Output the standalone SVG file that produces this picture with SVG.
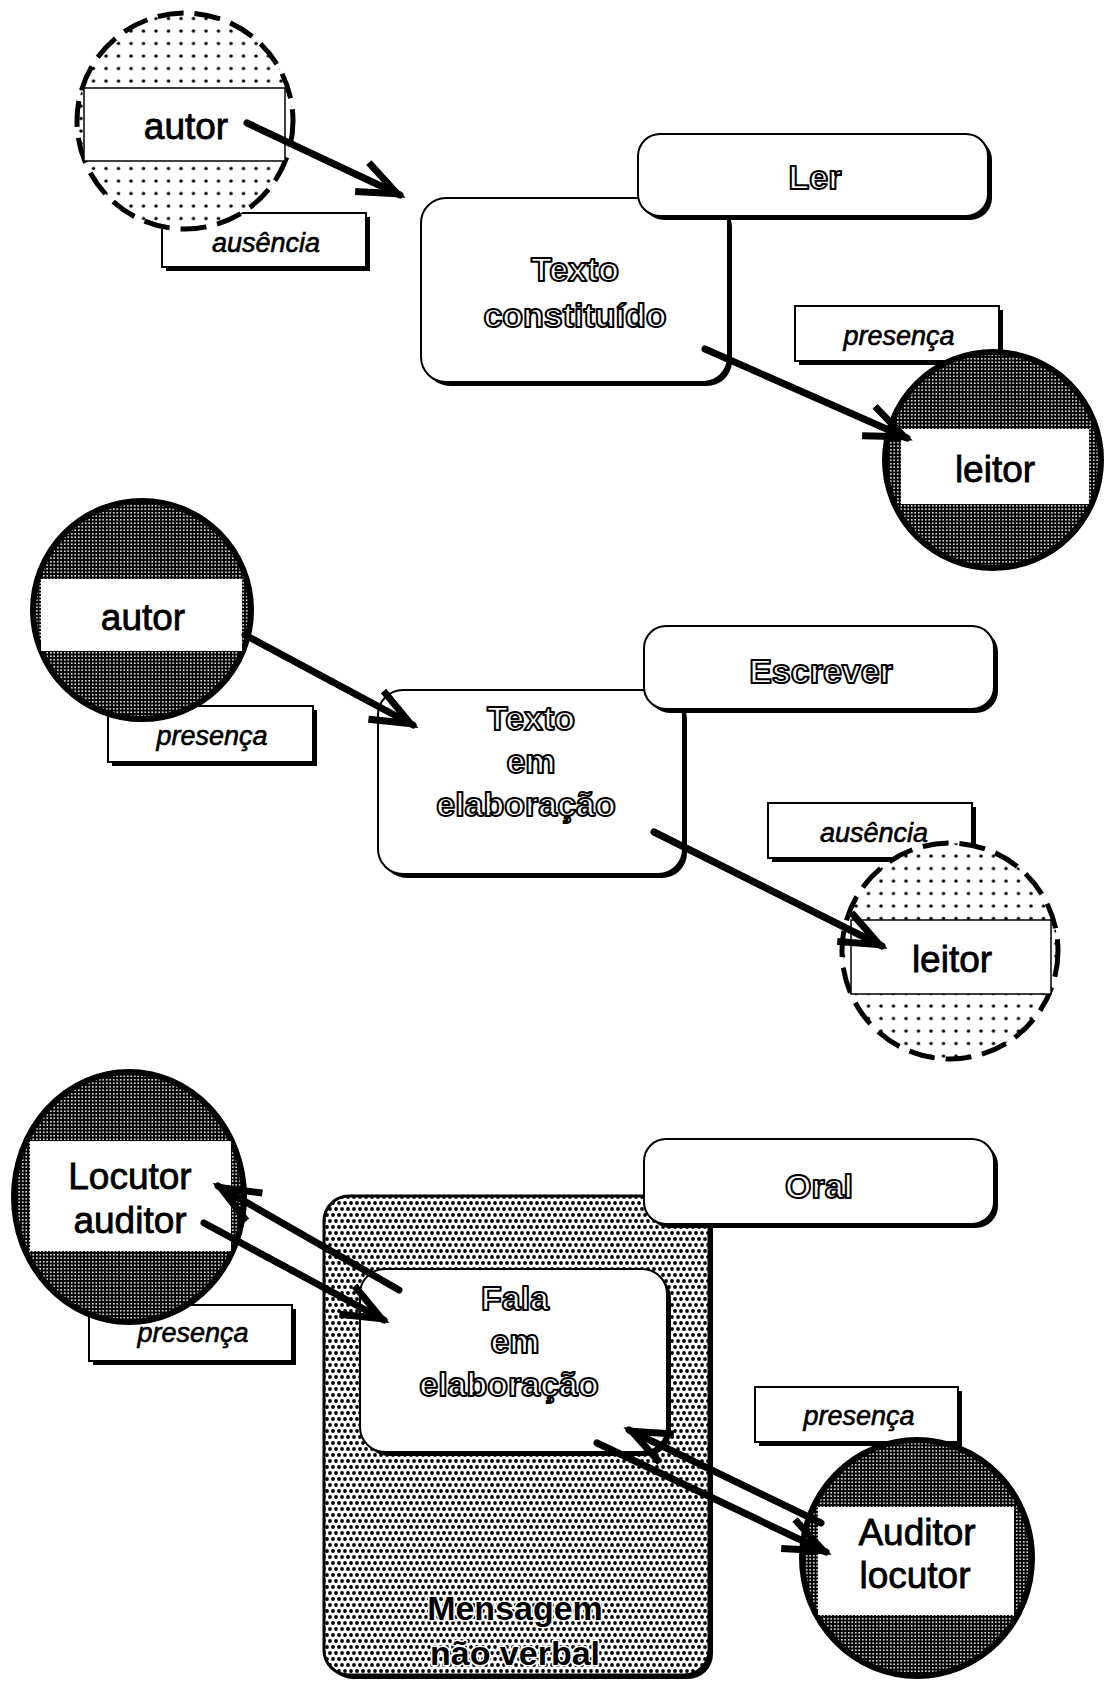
<svg xmlns="http://www.w3.org/2000/svg" width="1104" height="1683" viewBox="0 0 1104 1683">
<style>
.bg{fill:#fff}
.sh{fill:#000}
.box{fill:#fff;stroke:#000;stroke-width:2}
.big{fill:url(#dots);stroke:#000;stroke-width:3}
.ring{stroke:#000;stroke-width:6}
.dark{fill:url(#dark)}
.sparse{fill:url(#sparse);stroke-width:5;stroke-dasharray:26 11}
.win{fill:#fff}
.winb{fill:#fff;stroke:#000;stroke-width:1.5}
.ttl{font-family:"Liberation Sans",Arial,sans-serif;font-weight:bold;font-size:34px;fill:#fff;stroke:#000;stroke-width:2;stroke-linejoin:round;text-anchor:middle}
.inv{font-family:"Liberation Sans",Arial,sans-serif;font-weight:bold;font-size:34px;fill:#000;stroke:#fff;stroke-width:3;stroke-linejoin:round;paint-order:stroke;text-anchor:middle}
.name{font-family:"Liberation Sans",Arial,sans-serif;font-size:37px;fill:#000;stroke:#000;stroke-width:0.8;text-anchor:middle}
.tag{font-family:"Liberation Sans",Arial,sans-serif;font-style:italic;font-size:27px;fill:#000;stroke:#000;stroke-width:0.6;text-anchor:middle}
.conn{fill:none;stroke:#000;stroke-width:7;stroke-linecap:round;marker-end:url(#ah)}
</style>
<defs>
<pattern id="dark" width="3.5" height="3.5" patternUnits="userSpaceOnUse">
<rect width="3.5" height="3.5" fill="#000"/>
<circle cx="1.75" cy="1.75" r="0.95" fill="#fff"/>
</pattern>
<pattern id="sparse" width="12.5" height="12.5" patternUnits="userSpaceOnUse">
<rect width="12.5" height="12.5" fill="#fff"/>
<circle cx="6" cy="6" r="1.7" fill="#000"/>
</pattern>
<pattern id="dots" width="12" height="12" patternUnits="userSpaceOnUse">
<rect width="12" height="12" fill="#fff"/>
<circle cx="3" cy="3" r="1.9" fill="#000"/>
<circle cx="9" cy="3" r="1.9" fill="#000"/>
<circle cx="0" cy="9" r="1.9" fill="#000"/>
<circle cx="6" cy="9" r="1.9" fill="#000"/>
<circle cx="12" cy="9" r="1.9" fill="#000"/>
</pattern>
<marker id="ah" markerUnits="userSpaceOnUse" orient="auto" viewBox="-50 -25 60 50" markerWidth="60" markerHeight="50" refX="0" refY="0" overflow="visible">
<path d="M-42,-16 L-3,0 L-42,16" fill="none" stroke="#000" stroke-width="7" stroke-linejoin="miter"/>
</marker>
</defs>
<rect class="bg" width="1104" height="1683"/>

<!-- Section 1 : Ler -->
<g id="texto-constituido">
<rect class="sh" x="425" y="202" width="307" height="184" rx="25"/>
<rect class="box" x="421" y="198" width="307" height="184" rx="25"/>
<text class="ttl" x="575" y="281">Texto</text>
<text class="ttl" x="575" y="327">constituído</text>
</g>
<g id="ler">
<rect class="sh" x="642" y="138" width="350" height="82" rx="22"/>
<rect class="box" x="638" y="134" width="350" height="82" rx="22"/>
<text class="ttl" x="815" y="189">Ler</text>
</g>
<g id="ausencia-1">
<rect class="sh" x="166" y="217" width="204" height="54"/>
<rect class="box" x="162" y="213" width="204" height="54"/>
<text class="tag" x="266" y="252">ausência</text>
</g>
<g id="autor-1">
<circle class="ring sparse" cx="185" cy="121" r="108"/>
<rect class="winb" x="84" y="88" width="201" height="73"/>
<text class="name" x="186" y="139">autor</text>
</g>
<g id="presenca-1">
<rect class="sh" x="799" y="310" width="204" height="55"/>
<rect class="box" x="795" y="306" width="204" height="55"/>
<text class="tag" x="899" y="345">presença</text>
</g>
<g id="leitor-1">
<circle class="ring dark" cx="993" cy="460" r="108"/>
<rect class="win" x="901" y="429" width="188" height="75"/>
<text class="name" x="995" y="482">leitor</text>
</g>

<!-- Section 2 : Escrever -->
<g id="texto-em-elaboracao">
<rect class="sh" x="382" y="694" width="305" height="184" rx="25"/>
<rect class="box" x="378" y="690" width="305" height="184" rx="25"/>
<text class="ttl" x="531" y="730">Texto</text>
<text class="ttl" x="531" y="773">em</text>
<text class="ttl" x="526" y="816">elaboração</text>
</g>
<g id="escrever">
<rect class="sh" x="648" y="630" width="350" height="83" rx="22"/>
<rect class="box" x="644" y="626" width="350" height="83" rx="22"/>
<text class="ttl" x="821" y="683">Escrever</text>
</g>
<g id="presenca-2">
<rect class="sh" x="112" y="710" width="205" height="56"/>
<rect class="box" x="108" y="706" width="205" height="56"/>
<text class="tag" x="212" y="745">presença</text>
</g>
<g id="autor-2">
<circle class="ring dark" cx="142" cy="610" r="109"/>
<rect class="win" x="41" y="579" width="201" height="72"/>
<text class="name" x="143" y="630">autor</text>
</g>
<g id="ausencia-2">
<rect class="sh" x="772" y="807" width="204" height="55"/>
<rect class="box" x="768" y="803" width="204" height="55"/>
<text class="tag" x="874" y="842">ausência</text>
</g>
<g id="leitor-2">
<circle class="ring sparse" cx="950" cy="951" r="108"/>
<rect class="winb" x="851" y="920" width="200" height="74"/>
<text class="name" x="952" y="972">leitor</text>
</g>

<!-- Section 3 : Oral -->
<g id="mensagem-nao-verbal">
<rect class="sh" x="328" y="1200" width="385" height="479" rx="25"/>
<rect class="big" x="324" y="1196" width="385" height="479" rx="25"/>
<text class="inv" x="515" y="1620">Mensagem</text>
<text class="inv" x="515" y="1665">não verbal</text>
</g>
<g id="fala-em-elaboracao">
<rect class="sh" x="364" y="1273" width="307" height="183" rx="25"/>
<rect class="box" x="360" y="1269" width="307" height="183" rx="25"/>
<text class="ttl" x="515" y="1310">Fala</text>
<text class="ttl" x="515" y="1353">em</text>
<text class="ttl" x="509" y="1396">elaboração</text>
</g>
<g id="oral">
<rect class="sh" x="648" y="1143" width="350" height="85" rx="22"/>
<rect class="box" x="644" y="1139" width="350" height="85" rx="22"/>
<text class="ttl" x="819" y="1198">Oral</text>
</g>
<g id="presenca-3">
<rect class="sh" x="93" y="1309" width="203" height="56"/>
<rect class="box" x="89" y="1305" width="203" height="56"/>
<text class="tag" x="193" y="1342">presença</text>
</g>
<g id="locutor-auditor">
<ellipse class="ring dark" cx="129" cy="1197" rx="115" ry="125"/>
<rect class="win" x="30" y="1141" width="201" height="110"/>
<text class="name" x="130" y="1189">Locutor</text>
<text class="name" x="130" y="1233">auditor</text>
</g>
<g id="presenca-4">
<rect class="sh" x="759" y="1391" width="203" height="55"/>
<rect class="box" x="755" y="1387" width="203" height="55"/>
<text class="tag" x="859" y="1425">presença</text>
</g>
<g id="auditor-locutor">
<ellipse class="ring dark" cx="917" cy="1558" rx="115" ry="118"/>
<rect class="win" x="818" y="1507" width="196" height="108"/>
<text class="name" x="917" y="1545">Auditor</text>
<text class="name" x="915" y="1588">locutor</text>
</g>

<g id="connectors">
<line class="conn" x1="247" y1="123" x2="400" y2="195"/>
<line class="conn" x1="705" y1="349" x2="907" y2="438"/>
<line class="conn" x1="245" y1="635" x2="413" y2="725"/>
<line class="conn" x1="654" y1="832" x2="882" y2="946"/>
<line class="conn" x1="399" y1="1290" x2="218" y2="1186"/>
<line class="conn" x1="204" y1="1223" x2="384" y2="1320"/>
<line class="conn" x1="821" y1="1523" x2="629" y2="1430"/>
<line class="conn" x1="597" y1="1443" x2="826" y2="1552"/>
</g>
</svg>
